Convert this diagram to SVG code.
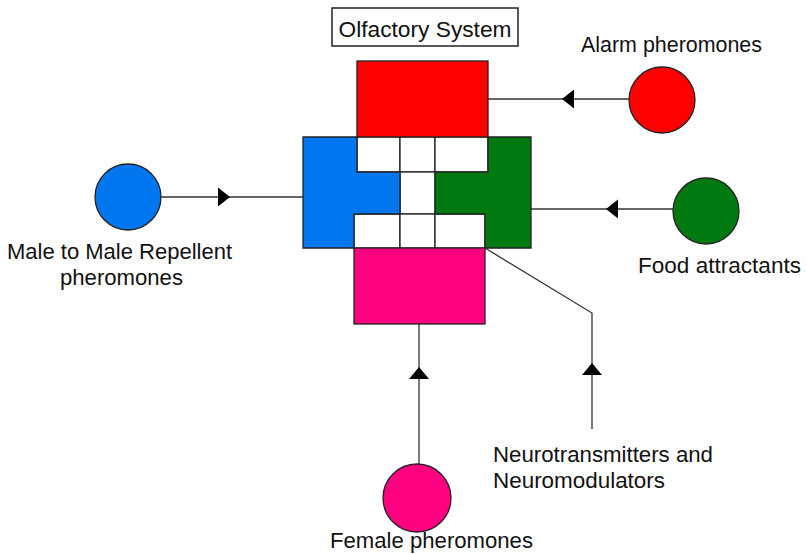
<svg xmlns="http://www.w3.org/2000/svg" width="807" height="554" viewBox="0 0 807 554">
<style>
text{font-family:"Liberation Sans",Arial,sans-serif;font-size:22px;fill:#111}
.sh{stroke:#222;stroke-width:1.3}
.ln{stroke:#333;stroke-width:1.3;fill:none}
.ar{fill:#000}
</style>
<rect width="807" height="554" fill="#fff"/>
<g id="title">
<rect x="332" y="8" width="186" height="38" fill="#fff" stroke="#222" stroke-width="1.5"/>
<text x="425" y="37" text-anchor="middle" textLength="173" lengthAdjust="spacingAndGlyphs">Olfactory System</text>
</g>
<g id="connectors">
<line class="ln" x1="488" y1="99" x2="630" y2="99"/>
<polygon class="ar" points="562,99 574,89.5 574,108.5"/>
<line class="ln" x1="531" y1="209" x2="674" y2="209"/>
<polygon class="ar" points="606,209 618,199.5 618,218.5"/>
<line class="ln" x1="161" y1="197" x2="303" y2="197"/>
<polygon class="ar" points="230,197 218,187.5 218,206.5"/>
<line class="ln" x1="419" y1="324" x2="419" y2="465"/>
<polygon class="ar" points="419,367 409,379 429,379"/>
<polyline class="ln" points="485,248 592,313 592,429"/>
<polygon class="ar" points="592,363 582,375 602,375"/>
</g>
<g id="olfactory-system">
<rect id="cell-t1" x="357" y="137" width="43" height="35" fill="#fff" class="sh"/>
<rect id="cell-t2" x="400" y="137" width="35" height="35" fill="#fff" class="sh"/>
<rect id="cell-t3" x="435" y="137" width="53" height="35" fill="#fff" class="sh"/>
<rect id="cell-m" x="400" y="172" width="35" height="42" fill="#fff" class="sh"/>
<rect id="cell-b1" x="354" y="214" width="46" height="34" fill="#fff" class="sh"/>
<rect id="cell-b2" x="400" y="214" width="35" height="34" fill="#fff" class="sh"/>
<rect id="cell-b3" x="435" y="214" width="50" height="34" fill="#fff" class="sh"/>
<rect id="red-block" x="357" y="61" width="131" height="76" fill="#ff0000" class="sh"/>
<polygon id="blue-block" points="303,137 357,137 357,172 400,172 400,214 354,214 354,248 303,248" fill="#0077ee" class="sh"/>
<polygon id="green-block" points="488,137 531,137 531,248 485,248 485,214 435,214 435,172 488,172" fill="#007a10" class="sh"/>
<rect id="pink-block" x="354" y="248" width="131" height="76" fill="#ff0080" class="sh"/>
</g>
<g id="alarm">
<circle cx="662" cy="100" r="33" fill="#ff0000" class="sh"/>
<text x="581" y="52" textLength="181" lengthAdjust="spacingAndGlyphs">Alarm pheromones</text>
</g>
<g id="food">
<circle cx="706" cy="211" r="33" fill="#007a10" class="sh"/>
<text x="638" y="273" textLength="163" lengthAdjust="spacingAndGlyphs">Food attractants</text>
</g>
<g id="male">
<circle cx="128" cy="197" r="33" fill="#0077ee" class="sh"/>
<text x="7" y="259" textLength="225" lengthAdjust="spacingAndGlyphs">Male to Male Repellent</text>
<text x="60" y="285" textLength="123" lengthAdjust="spacingAndGlyphs">pheromones</text>
</g>
<g id="female">
<circle cx="417" cy="498" r="34" fill="#ff0080" class="sh"/>
<text x="330" y="548" textLength="203" lengthAdjust="spacingAndGlyphs">Female pheromones</text>
</g>
<g id="neuro">
<text x="493" y="462" textLength="220" lengthAdjust="spacingAndGlyphs">Neurotransmitters and</text>
<text x="493" y="488" textLength="172" lengthAdjust="spacingAndGlyphs">Neuromodulators</text>
</g>
</svg>
